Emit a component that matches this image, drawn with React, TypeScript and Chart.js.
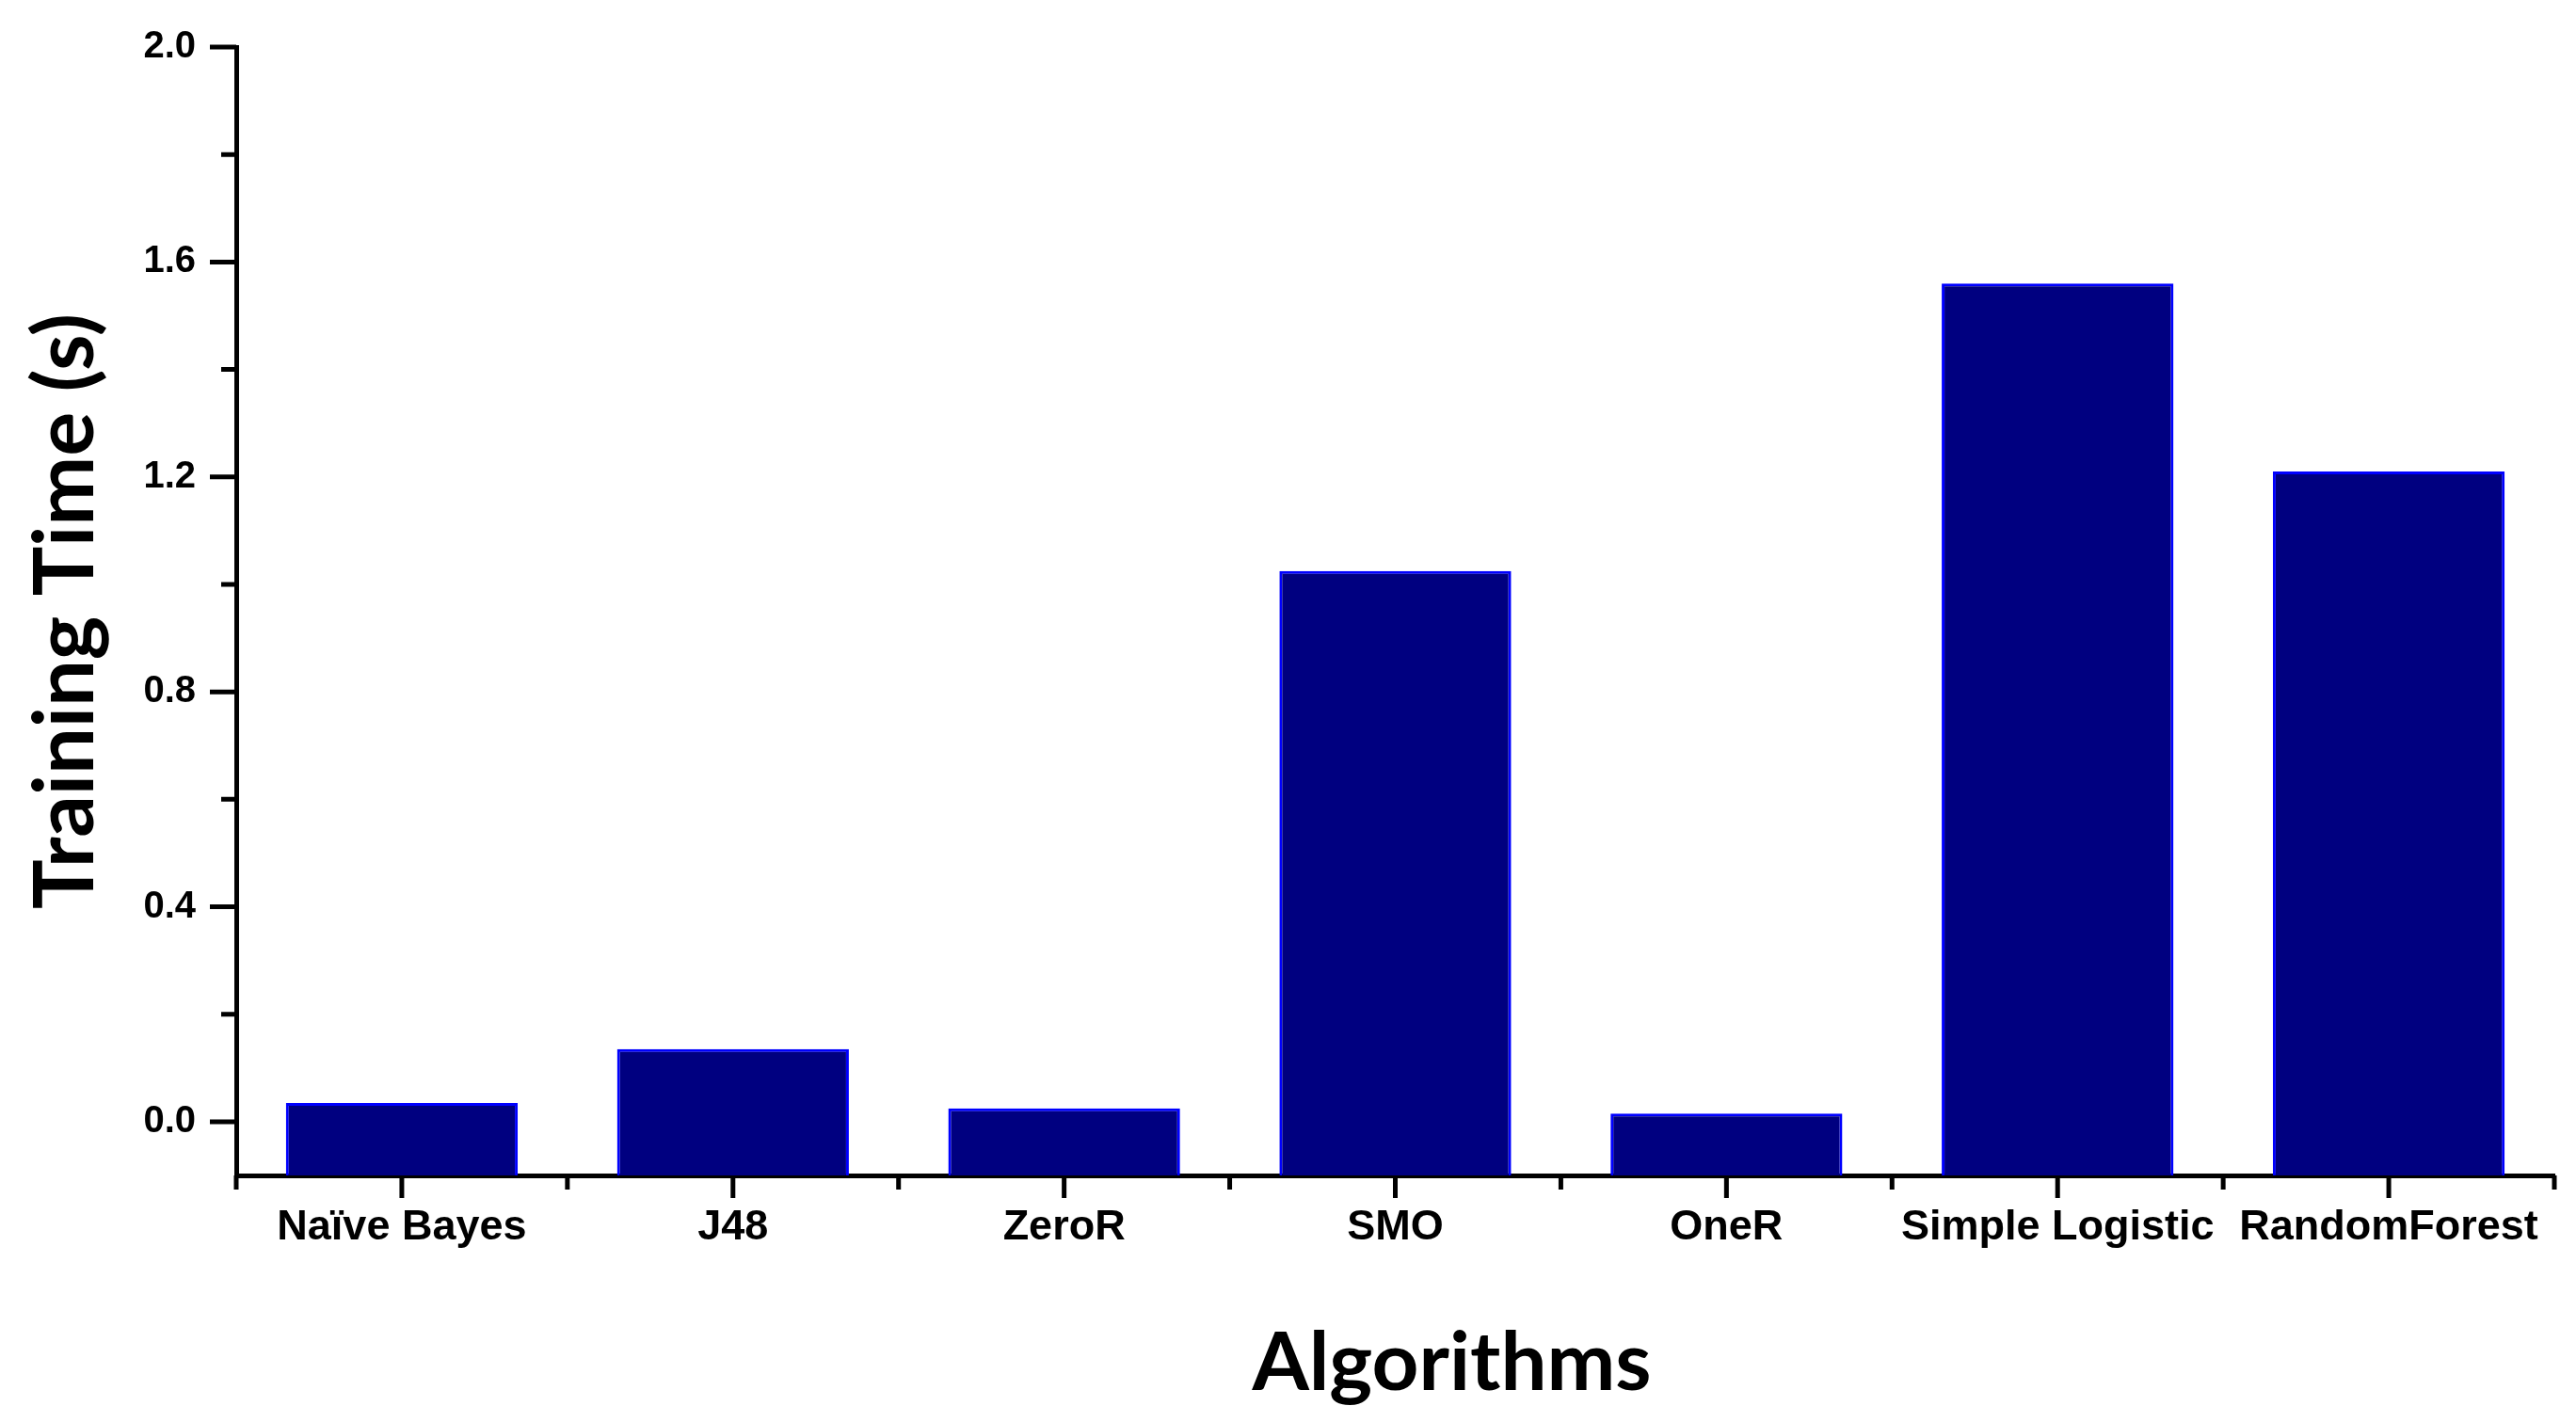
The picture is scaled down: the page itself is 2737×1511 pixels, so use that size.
import React, { useEffect, useRef } from 'react';
import { Chart, registerables } from 'chart.js';

Chart.register(...registerables);

const categories = ['Naïve Bayes', 'J48', 'ZeroR', 'SMO', 'OneR', 'Simple Logistic', 'RandomForest'];
const trainingTime = [0.035, 0.135, 0.025, 1.025, 0.015, 1.56, 1.21];
const yMajorTicks = [0.0, 0.4, 0.8, 1.2, 1.6, 2.0];
const yMinorTicks = [0.2, 0.6, 1.0, 1.4, 1.8];
const yMin = -0.1;
const yMax = 2.0;
const yTitle = 'Training Time (s)';
const xTitle = 'Algorithms';

const W = 2737;
const H = 1511;

const ticksPlugin = {
  id: 'originTicks',
  afterDraw(chart: any) {
    const ctx = chart.ctx;
    const xs = chart.scales.x;
    const ys = chart.scales.y;
    const area = chart.chartArea;
    ctx.save();
    ctx.strokeStyle = '#000';
    ctx.lineWidth = 5;
    ctx.lineCap = 'butt';
    ctx.beginPath();
    yMajorTicks.forEach((v) => {
      const py = ys.getPixelForValue(v);
      ctx.moveTo(area.left, py);
      ctx.lineTo(area.left - 28, py);
    });
    yMinorTicks.forEach((v) => {
      const py = ys.getPixelForValue(v);
      ctx.moveTo(area.left, py);
      ctx.lineTo(area.left - 16, py);
    });
    categories.forEach((_, i) => {
      const px = xs.getPixelForValue(i);
      ctx.moveTo(px, area.bottom);
      ctx.lineTo(px, area.bottom + 24);
    });
    for (let i = 0; i <= categories.length; i++) {
      const px = xs.getPixelForValue(i - 0.5);
      ctx.moveTo(px, area.bottom);
      ctx.lineTo(px, area.bottom + 15);
    }
    ctx.stroke();
    ctx.fillStyle = '#000';
    ctx.font = 'bold 87px Lato';
    ctx.textAlign = 'center';
    ctx.textBaseline = 'middle';
    ctx.fillText(xTitle, area.left + (area.right - area.left) / 2 + 60, 1449);
    ctx.restore();
  },
};

export default function App() {
  const ref = useRef<HTMLCanvasElement | null>(null);
  useEffect(() => {
    document.body.style.margin = '0';
    const canvas = ref.current;
    if (!canvas) return;
    const chart = new Chart(canvas, {
      type: 'bar',
      data: {
        labels: categories,
        datasets: [
          {
            data: trainingTime,
            base: yMin,
            backgroundColor: '#000080',
            borderColor: '#0000FF',
            borderWidth: 3,
            barPercentage: 0.7,
            categoryPercentage: 1.0,
          } as any,
        ],
      },
      options: {
        responsive: false,
        animation: false,
        devicePixelRatio: 1,
        layout: { padding: { top: 50, right: 23, left: 0, bottom: 0 } },
        plugins: { legend: { display: false }, tooltip: { enabled: false } },
        scales: {
          x: {
            type: 'category',
            offset: true,
            grid: { display: false, drawTicks: true, tickLength: 24 },
            border: { display: true, color: '#000', width: 5 },
            ticks: {
              autoSkip: false,
              maxRotation: 0,
              minRotation: 0,
              padding: 5,
              color: '#000',
              font: { family: 'Liberation Sans, Arial, sans-serif', weight: 'bold', size: 45 },
            },
            afterFit: (s: any) => {
              s.height = H - 1249;
            },
          },
          y: {
            type: 'linear',
            min: yMin,
            max: yMax,
            grid: { display: false, drawTicks: true, tickLength: 28 },
            border: { display: true, color: '#000', width: 5 },
            afterBuildTicks: (s: any) => {
              s.ticks = yMajorTicks.map((v) => ({ value: v }));
            },
            ticks: {
              padding: 15,
              color: '#000',
              font: { family: 'Liberation Sans, Arial, sans-serif', weight: 'bold', size: 40 },
              callback: (v: any) => Number(v).toFixed(1),
            },
            title: {
              display: true,
              text: yTitle,
              color: '#000',
              font: { family: 'Lato', weight: 'bold', size: 88 },
              padding: { top: 18, bottom: 0 },
            },
            afterFit: (s: any) => {
              s.width = 251;
            },
          },
        },
      },
      plugins: [ticksPlugin],
    });
    if ((document as any).fonts && (document as any).fonts.load) {
      (document as any).fonts.load('bold 84px Lato').then(() => chart.update()).catch(() => {});
    }
    return () => chart.destroy();
  }, []);
  return (
    <canvas
      ref={ref}
      width={W}
      height={H}
      style={{ display: 'block', width: W + 'px', height: H + 'px' }}
    />
  );
}
